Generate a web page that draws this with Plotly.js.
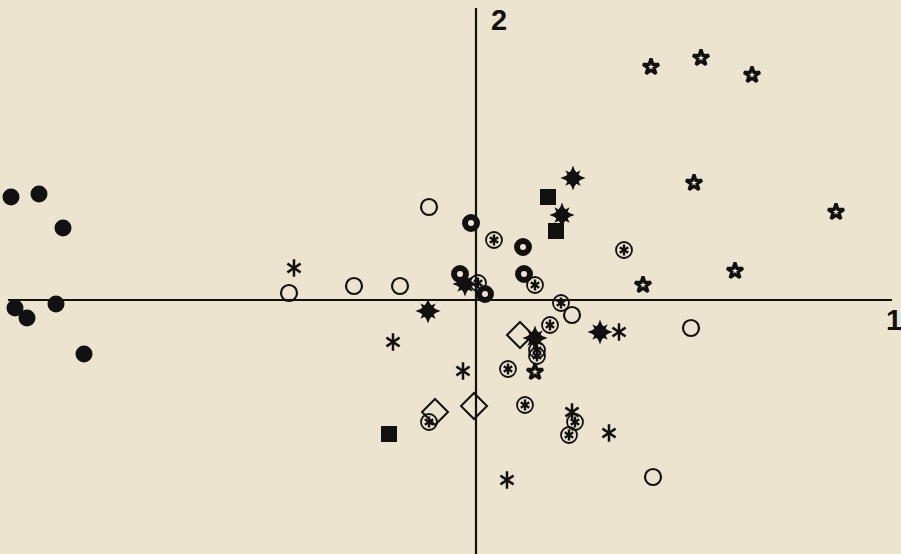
<!DOCTYPE html>
<html>
<head>
<meta charset="utf-8">
<script src="https://cdn.plot.ly/plotly-3.0.1.min.js"></script>
<style>html,body{margin:0;padding:0;background:#EDE4CF;}#chart{width:901px;height:554px;}</style>
</head>
<body>
<div id="chart"></div>
<script>
// Ordination scores (axis 1, axis 2) per group
const filledCircleX = [-4.65, -4.37, -4.13, -4.61, -4.49, -4.20, -3.92];
const filledCircleY = [1.03, 1.06, 0.72, -0.08, -0.18, -0.04, -0.54];

const openCircleX = [-0.47, -1.87, -1.22, -0.76, 0.96, 2.15, 1.77];
const openCircleY = [0.93, 0.07, 0.14, 0.14, -0.15, -0.28, -1.77];

const thickRingX = [-0.05, 0.47, -0.16, 0.48, 0.09];
const thickRingY = [0.77, 0.53, 0.26, 0.26, 0.06];

const circledAstX = [0.18, 1.48, 0.59, 0.02, 0.85, 0.74, 0.61, 0.61, 0.32, -0.47, 0.49, 0.99, 0.93];
const circledAstY = [0.60, 0.50, 0.15, 0.17, -0.03, -0.25, -0.50, -0.56, -0.69, -1.22, -1.05, -1.22, -1.35];

const burstX = [0.97, 0.86, -0.11, -0.48, 1.24, 0.59];
const burstY = [1.22, 0.85, 0.16, -0.11, -0.32, -0.38];

const asteriskX = [-1.82, -0.83, -0.13, 0.31, 1.43, 1.33, 0.96];
const asteriskY = [0.32, -0.42, -0.71, -1.80, -0.32, -1.33, -1.12];

const openStarX = [1.75, 2.25, 2.76, 2.18, 3.60, 2.59, 1.67, 0.59];
const openStarY = [2.33, 2.42, 2.25, 1.17, 0.88, 0.29, 0.15, -0.72];

const squareX = [0.72, 0.80, -0.87];
const squareY = [1.03, 0.69, -1.34];

const diamondX = [0.44, -0.41, -0.02];
const diamondY = [-0.35, -1.12, -1.06];

const axisLabels = ['1', '2'];

const K = '#111111';
function tr(x, y, symbol, size, fill, lw) {
  return {
    x: x, y: y, type: 'scatter', mode: 'markers', hoverinfo: 'skip', showlegend: false,
    marker: {symbol: symbol, size: size, color: fill, line: {color: K, width: lw}}
  };
}

const data = [
  tr(diamondX, diamondY, 'diamond-open', 20, K, 2),
  tr(openCircleX, openCircleY, 'circle-open', 16, K, 2.2),
  tr(circledAstX, circledAstY, 'circle-open', 16, K, 1.8),
  tr(circledAstX, circledAstY, 'y-up-open', 7, K, 2.4),
  tr(circledAstX, circledAstY, 'y-down-open', 7, K, 2.4),
  tr(asteriskX, asteriskY, 'y-up-open', 11, K, 2.5),
  tr(asteriskX, asteriskY, 'y-down-open', 11, K, 2.5),
  tr(openStarX, openStarY, 'star-open', 12, K, 3.2),
  tr(filledCircleX, filledCircleY, 'circle', 17, K, 0),
  tr(thickRingX, thickRingY, 'circle-open', 12, K, 6),
  tr(squareX, squareY, 'square', 16, K, 0),
  tr(burstX, burstY, 'star-square', 14, K, 0),
  tr(burstX, burstY, 'star-diamond', 18, K, 0),
  tr(burstX, burstY, 'circle', 10, K, 0)
];

const layout = {
  width: 901, height: 554,
  margin: {l: 0, r: 0, t: 0, b: 0},
  paper_bgcolor: '#EDE4CF', plot_bgcolor: '#EDE4CF',
  xaxis: {range: [-4.76, 4.25], visible: false, fixedrange: true},
  yaxis: {range: [-2.54, 3.0], visible: false, fixedrange: true},
  shapes: [
    {type: 'line', xref: 'x', yref: 'y', x0: -4.68, x1: 4.16, y0: 0, y1: 0, line: {color: K, width: 2.2}},
    {type: 'line', xref: 'x', yref: 'y', x0: 0, x1: 0, y0: -2.54, y1: 2.92, line: {color: K, width: 2.2}}
  ],
  annotations: [
    {text: '<b>' + axisLabels[0] + '</b>', xref: 'paper', yref: 'paper', x: 894/901, y: 1 - 320/554, showarrow: false,
     xanchor: 'center', yanchor: 'middle', font: {family: 'Liberation Sans, Arial, sans-serif', size: 29, color: K}},
    {text: '<b>' + axisLabels[1] + '</b>', xref: 'paper', yref: 'paper', x: 499/901, y: 1 - 20/554, showarrow: false,
     xanchor: 'center', yanchor: 'middle', font: {family: 'Liberation Sans, Arial, sans-serif', size: 29, color: K}}
  ]
};

Plotly.newPlot('chart', data, layout, {staticPlot: true, displayModeBar: false});
</script>
</body>
</html>
